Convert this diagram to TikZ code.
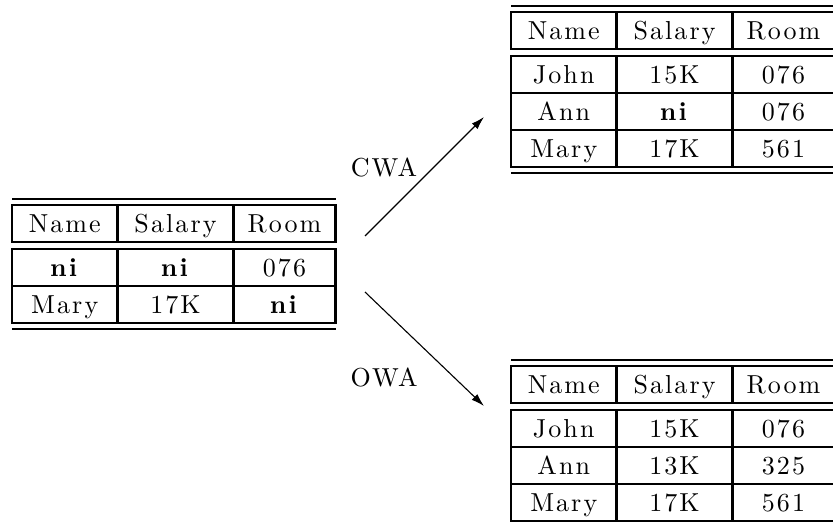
\documentclass[tikz,border=0pt]{standalone}
\usepackage{fontspec}
\usetikzlibrary{arrows.meta}

% 10pt design of Latin Modern, enlarged and slightly tracked
\setmainfont{lmroman10-regular.otf}[BoldFont=lmroman10-bold.otf, LetterSpace=8]
\newcommand\cellfont{\fontsize{26}{30}\selectfont}

\tikzset{
  rule/.style={line width=2pt},
  frame/.style={line width=2.2pt},
  cell/.style={anchor=base, inner sep=0pt, font=\cellfont},
  lbl/.style={anchor=base, inner sep=0pt, font=\cellfont},
  flow/.style={line width=1.1pt, -{Latex[length=13pt,width=8pt]}},
}

% Ruled table frame: #1 left x, #2 y of the top rule, #3 number of data rows
\newcommand\tablegrid[3]{%
  \draw[rule] (#1,#2) -- ++(323.5,0);
  \draw[frame] (#1,#2+6) rectangle ++(323.5,37);
  \draw[frame] (#1,#2+50) rectangle ++(323.5,37*#3);
  \foreach \k in {2,...,#3} {\draw[frame] (#1,#2+13+37*\k) -- ++(323.5,0);}
  \foreach \c in {105.5,221.5} {
    \draw[frame] (#1+\c,#2+6) -- ++(0,37);
    \draw[frame] (#1+\c,#2+50) -- ++(0,37*#3);
  }
  \draw[rule] (#1,#2+56+37*#3) -- ++(323.5,0);
}

% One row of cells: #1 name prefix, #2 left x, #3 row centre y, #4-#6 entries
\newcommand\cellrow[6]{%
  \node[cell] (#1-a) at (#2+52.75,#3+9) {#4};
  \node[cell] (#1-b) at (#2+163.5,#3+9) {#5};
  \node[cell] (#1-c) at (#2+272.5,#3+9) {#6};
}

\begin{document}
\begin{tikzpicture}[x=1pt,y=-1pt]
  \useasboundingbox (0,0) rectangle (833,522);
  \fill[white] (0,0) rectangle (833,522);

  % input relation
  \tablegrid{12}{199}{2}
  \cellrow{in0}{12}{223.5}{Name}{Salary}{Room}
  \cellrow{in1}{12}{267.5}{\textbf{ni}}{\textbf{ni}}{076}
  \cellrow{in2}{12}{304.5}{Mary}{17K}{\textbf{ni}}

  % closed-world result
  \tablegrid{511}{6}{3}
  \cellrow{cw0}{511}{30.5}{Name}{Salary}{Room}
  \cellrow{cw1}{511}{74.5}{John}{15K}{076}
  \cellrow{cw2}{511}{111.5}{Ann}{\textbf{ni}}{076}
  \cellrow{cw3}{511}{148.5}{Mary}{17K}{561}

  % open-world result
  \tablegrid{511}{360}{3}
  \cellrow{ow0}{511}{384.5}{Name}{Salary}{Room}
  \cellrow{ow1}{511}{428.5}{John}{15K}{076}
  \cellrow{ow2}{511}{465.5}{Ann}{13K}{325}
  \cellrow{ow3}{511}{502.5}{Mary}{17K}{561}

  % transitions
  \coordinate (cwa-s) at (365,236);
  \coordinate (cwa-e) at (484,117);
  \coordinate (owa-s) at (365,292);
  \coordinate (owa-e) at (484,406);
  \draw[flow] (cwa-s) -- (cwa-e);
  \draw[flow] (owa-s) -- (owa-e);
  \node[lbl] (cwa) at (384,176) {CWA};
  \node[lbl] (owa) at (384,386) {OWA};
\end{tikzpicture}
\end{document}
